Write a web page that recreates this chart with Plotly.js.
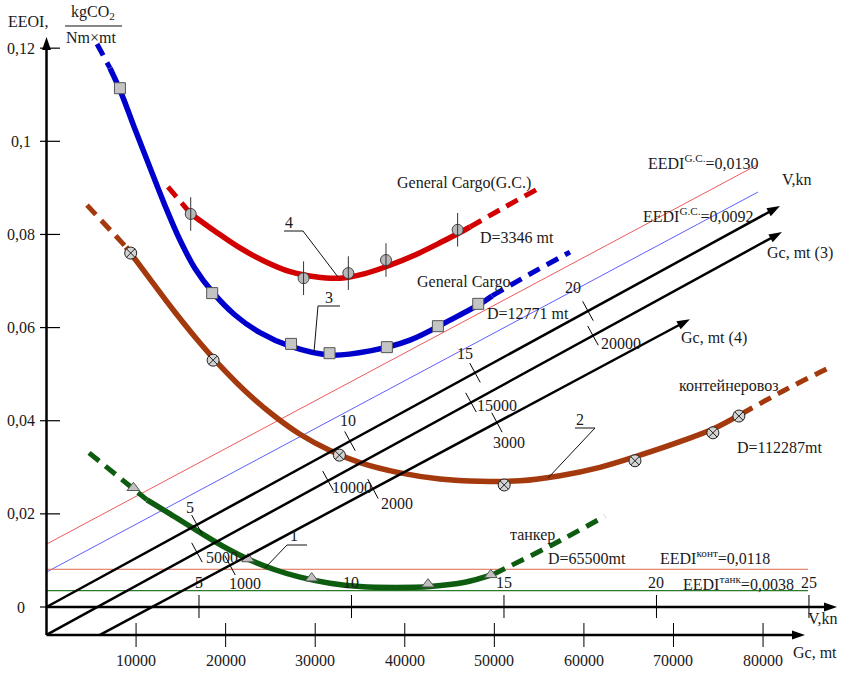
<!DOCTYPE html>
<html><head><meta charset="utf-8">
<script src="https://cdn.plot.ly/plotly-3.0.1.min.js"></script>
<style>html,body{margin:0;padding:0;background:#fff;}#chart{width:843px;height:673px;}</style>
</head><body><div id="chart"></div>
<script>
// ================= DATA =================
// Axis ticks
const eeoiTicks = [0, 0.02, 0.04, 0.06, 0.08, 0.10, 0.12];
const eeoiTickText = ['0', '0,02', '0,04', '0,06', '0,08', '0,1', '0,12'];
const gcTicks = [10000, 20000, 30000, 40000, 50000, 60000, 70000, 80000];
const vTicks = [5, 10, 15, 20, 25];
const mtPerKnot = 3405;               // V,kn scale expressed in Gc units
// Diagonal nomogram axes (start / end points, tick positions as Gc projections)
const diagVStart = [0, 0], diagVEnd = [81890, 0.0861];
const diagVTickPos = [16800, 33880, 47840, 60450];
const diagVTickText = ['5', '10', '15', '20'];
const diag3Start = [0, -0.0060], diag3End = [82110, 0.0805];
const diag3TickPos = [16800, 31430, 47390, 61010];
const diag3TickText = ['5000', '10000', '15000', '20000'];
const diag4Start = [5970, -0.0060], diag4End = [71840, 0.0618];
const diag4TickPos = [20490, 36450, 50290];
const diag4TickText = ['1000', '2000', '3000'];
// EEDI reference lines
const eediGC1X = [0, 79320], eediGC1Y = [0.0135, 0.0949];
const eediGC2X = [0, 79430], eediGC2Y = [0.0075, 0.0891];
const eediKontLevel = 0.0081, eediTankLevel = 0.0035, eediHorizEnd = 85010;

// Curve 1: tanker D=65500mt
const tankerMarkX = [9700, 22500, 29600, 42600, 49600];
const tankerMarkY = [0.0256, 0.0103, 0.0062, 0.0049, 0.0069];
const tankerLineX = [11220, 13790, 16800, 19930, 22720, 25510, 28300, 31650, 35000, 38910, 42810, 46720, 49850];
const tankerLineY = [0.0230, 0.0200, 0.0164, 0.0128, 0.0101, 0.0080, 0.0064, 0.0051, 0.0044, 0.0042, 0.0044, 0.0053, 0.0070];
const tankerHeadX = [4750, 11220], tankerHeadY = [0.0331, 0.0230];
const tankerTailX = [49850, 56210, 62350], tankerTailY = [0.0070, 0.0131, 0.0195];

// Curve 2: container ship D=112287mt
const contMarkX = [9400, 18600, 32700, 51100, 65700, 74400, 77300];
const contMarkY = [0.0760, 0.0530, 0.0326, 0.0262, 0.0314, 0.0374, 0.0410];
const contLineX = [8880, 11560, 14350, 17140, 19930, 22720, 25510, 28300, 31650, 35000, 39470, 43930, 48400, 52860, 57330, 61790, 66260, 70720, 74410, 77530];
const contLineY = [0.0773, 0.0704, 0.0633, 0.0567, 0.0507, 0.0454, 0.0409, 0.0371, 0.0336, 0.0310, 0.0288, 0.0275, 0.0270, 0.0271, 0.0282, 0.0300, 0.0326, 0.0355, 0.0382, 0.0414];
const contHeadX = [4520, 8880], contHeadY = [0.0863, 0.0773];
const contTailX = [77530, 82450, 87470], contTailY = [0.0414, 0.0466, 0.0515];

// Curve 3: General Cargo D=12771 mt
const gc3MarkX = [8200, 18500, 27300, 31600, 38000, 43700, 48200];
const gc3MarkY = [0.1114, 0.0674, 0.0565, 0.0545, 0.0558, 0.0603, 0.0651];
const gc3LineX = [7090, 8210, 9880, 11560, 13230, 14900, 16580, 18590, 21040, 23840, 27190, 31650, 36120, 40580, 45050, 48170, 49740];
const gc3LineY = [0.1157, 0.1110, 0.1026, 0.0943, 0.0862, 0.0788, 0.0727, 0.0675, 0.0627, 0.0589, 0.0560, 0.0541, 0.0550, 0.0573, 0.0616, 0.0648, 0.0668];
const gc3HeadX = [5640, 7090], gc3HeadY = [0.1209, 0.1157];
const gc3TailX = [49740, 53980, 58440], gc3TailY = [0.0668, 0.0715, 0.0762];

// Curve 4: General Cargo(G.C.) D=3346 mt
const gc4MarkX = [16100, 28700, 33700, 37900, 45900];
const gc4MarkY = [0.0844, 0.0706, 0.0717, 0.0745, 0.0810];
const gc4LineX = [16130, 18810, 21600, 24390, 27190, 29980, 32770, 35560, 38350, 41140, 43930, 45940, 47280];
const gc4LineY = [0.0844, 0.0807, 0.0771, 0.0742, 0.0720, 0.0709, 0.0706, 0.0716, 0.0734, 0.0756, 0.0782, 0.0802, 0.0816];
const gc4HeadX = [13560, 16130], gc4HeadY = [0.0902, 0.0844];
const gc4TailX = [47280, 51190, 55430], gc4TailY = [0.0816, 0.0859, 0.0904];

// ================= LAYOUT / STYLE =================
const W = 843, H = 673;
const X0 = 46.5, PXX = 0.008957;   // pixel of Gc=0, pixels per mt
const Y0 = 607, PXY = 4657;        // pixel of EEOI=0, pixels per unit
const xRange = [-X0 / PXX, (W - X0) / PXX];
const yRange = [-(H - Y0) / PXY, Y0 / PXY];
const dx = p => p / PXX, dy = p => p / PXY;       // pixel lengths -> data lengths
const gcAxisLevel = -dy(28);
const FONT = 'Liberation Serif, serif';
const pp = (px, py) => ({x: px / W, y: 1 - py / H});
const DASH = '13px,8px';

const traces = [];
function line(x, y, color, width, dash) {
  traces.push({type: 'scatter', mode: 'lines', x: x, y: y, hoverinfo: 'skip',
    line: {color: color, width: width, dash: dash || 'solid', shape: 'spline', smoothing: 1}});
}
function marks(x, y, symbol, size, fill, lc, lw) {
  traces.push({type: 'scatter', mode: 'markers', x: x, y: y, hoverinfo: 'skip',
    marker: {symbol: symbol, size: size, color: fill, line: {color: lc, width: lw}}});
}
// thin EEDI lines
traces.push({type:'scatter',mode:'lines',x:eediGC1X,y:eediGC1Y,line:{color:'#ee5a5a',width:1},hoverinfo:'skip'});
traces.push({type:'scatter',mode:'lines',x:eediGC2X,y:eediGC2Y,line:{color:'#5f5fff',width:1},hoverinfo:'skip'});
traces.push({type:'scatter',mode:'lines',x:[0,eediHorizEnd],y:[eediKontLevel,eediKontLevel],line:{color:'#dd6a50',width:1},hoverinfo:'skip'});
traces.push({type:'scatter',mode:'lines',x:[0,eediHorizEnd],y:[eediTankLevel,eediTankLevel],line:{color:'#2a7a2a',width:1.2},hoverinfo:'skip'});

const C1 = '#0e5c10', C2 = '#a3390c', C3 = '#0000cc', C4 = '#d20000';
line(tankerLineX, tankerLineY, C1, 5.5); line(tankerHeadX, tankerHeadY, C1, 5, DASH); line(tankerTailX, tankerTailY, C1, 5, DASH);
line(contLineX, contLineY, C2, 5.5); line(contHeadX, contHeadY, C2, 5, DASH); line(contTailX, contTailY, C2, 5, DASH);
line(gc3LineX, gc3LineY, C3, 5.5); line(gc3HeadX, gc3HeadY, C3, 5, DASH); line(gc3TailX, gc3TailY, C3, 5, DASH);
line(gc4LineX, gc4LineY, C4, 5.5); line(gc4HeadX, gc4HeadY, C4, 5, DASH); line(gc4TailX, gc4TailY, C4, 5, DASH);
marks(tankerMarkX, tankerMarkY, 'triangle-up', 11, '#c0c0c0', '#555', 1);
marks(contMarkX, contMarkY, 'circle-x', 12, '#d4d4d4', '#222', 1);
marks(gc3MarkX, gc3MarkY, 'square', 11, '#c4c4c4', '#555', 1);
marks(gc4MarkX, gc4MarkY, 'circle', 11, '#b8b8b8', '#444', 1);
marks(gc4MarkX, gc4MarkY, 'line-ns', 24, '#333', '#333', 1);

// ================= SHAPES & ANNOTATIONS =================
const shapes = [], ann = [];
function seg(x0, y0, x1, y1, color, width) {
  shapes.push({type: 'line', xref: 'x', yref: 'y', x0: x0, y0: y0, x1: x1, y1: y1, line: {color: color, width: width}});
}
function arrow(x0, y0, x1, y1, w) {
  const sx = (x1 - x0) * PXX, sy = -(y1 - y0) * PXY;
  const L = Math.hypot(sx, sy), ux = sx / L, uy = sy / L, len = 13, hw = 4.5;
  const toData = (ox, oy) => [x1 + ox / PXX, y1 - oy / PXY];
  const b = toData(-ux * len * 0.7, -uy * len * 0.7);
  seg(x0, y0, b[0], b[1], '#000', w);
  const p1 = toData(-ux * len - uy * hw, -uy * len + ux * hw);
  const p2 = toData(-ux * len + uy * hw, -uy * len - ux * hw);
  shapes.push({type: 'path', xref: 'x', yref: 'y', fillcolor: '#000', line: {width: 0},
    path: 'M' + x1 + ',' + y1 + ' L' + p1[0] + ',' + p1[1] + ' L' + p2[0] + ',' + p2[1] + ' Z'});
}
function text(t, px, py, anchor, size) {
  const p = pp(px, py);
  ann.push({x: p.x, y: p.y, xref: 'paper', yref: 'paper', text: t, showarrow: false,
    xanchor: anchor || 'left', yanchor: 'middle', font: {family: FONT, size: size || 16, color: '#1a1a1a'}});
}
// main axes
arrow(0, gcAxisLevel, 0, dy(570), 2.5);                 // EEOI axis
arrow(0, 0, dx(790.5), 0, 2.5);                         // V,kn axis
arrow(0, gcAxisLevel, dx(758.5), gcAxisLevel, 2.5);     // Gc axis
eeoiTicks.forEach((v, i) => {
  seg(-dx(6.5), v, dx(13.5), v, '#000', 1.2);
  ann.push({x: 21 / W, xref: 'paper', y: v, yref: 'y', text: eeoiTickText[i], showarrow: false,
    xanchor: 'center', yanchor: 'middle', font: {family: FONT, size: 16, color: '#1a1a1a'}});
});
gcTicks.forEach(v => {
  seg(v, gcAxisLevel + dy(12), v, gcAxisLevel - dy(12), '#000', 1);
  ann.push({x: v, xref: 'x', y: 1 - 660 / H, yref: 'paper', text: String(v), showarrow: false,
    xanchor: 'center', yanchor: 'middle', font: {family: FONT, size: 16, color: '#1a1a1a'}});
});
vTicks.forEach(v => {
  seg(v * mtPerKnot, dy(12), v * mtPerKnot, -dy(11), '#000', 1);
  ann.push({x: v * mtPerKnot, xref: 'x', y: 1 - 582 / H, yref: 'paper', text: String(v), showarrow: false,
    xanchor: 'center', yanchor: 'middle', font: {family: FONT, size: 16, color: '#1a1a1a'}});
});
// diagonal nomogram axes
function diag(st, en, tickPos, tickText, labelPx) {
  arrow(st[0], st[1], en[0], en[1], 2.5);
  const k = (en[1] - st[1]) / (en[0] - st[0]);
  const s = k * PXY / PXX;
  const n = Math.sqrt(1 + s * s), h = 11;
  tickPos.forEach((xc, i) => {
    const yc = st[1] + (xc - st[0]) * k;
    const ox = dx(h * s / n), oy = dy(h / n);
    seg(xc - ox, yc + oy, xc + ox, yc - oy, '#000', 1);
    text(tickText[i], labelPx[i][0], labelPx[i][1], 'center', 16);
  });
}
diag(diagVStart, diagVEnd, diagVTickPos, diagVTickText, [[190,507],[348,420],[465,353],[573,287]]);
diag(diag3Start, diag3End, diag3TickPos, diag3TickText, [[222,557],[352,487],[497,405],[621,343]]);
diag(diag4Start, diag4End, diag4TickPos, diag4TickText, [[245,583],[397,503],[509,442]]);

// labels
text('General Cargo(G.C.)', 395, 183);
text('D=3346 mt', 478, 237);
text('General Cargo', 415, 282);
text('D=12771 mt', 485, 313);
text('контейнеровоз', 677, 386);
text('D=112287mt', 735, 447);
text('танкер', 508, 535);
text('D=65500mt', 546, 558);
text('EEDI<sup>конт</sup>=0,0118', 658, 557);
text('EEDI<sup>танк</sup>=0,0038', 681, 583);
text('EEDI<sup>G.C.</sup>=0,0130', 646, 162);
text('EEDI<sup>G.C.</sup>=0,0092', 641, 215);
text('V,kn', 780, 180);
text('Gc, mt (3)', 765, 253);
text('Gc, mt (4)', 679, 338);
text('V,kn', 806, 618);
text('Gc, mt', 791, 652);
text('EEOI,', 6, 22);
text('kgCO<sub>2</sub>', 93, 12, 'center');
text('Nm×mt', 91, 37, 'center');
text('1', 294, 535, 'center');
text('2', 580, 419, 'center');
text('3', 329, 297, 'center');
text('4', 289, 223, 'center');
function ppath(pts) {
  return pts.map((q, i) => (i ? 'L' : 'M') + (q[0] / W).toFixed(5) + ',' + (1 - q[1] / H).toFixed(5)).join(' ');
}
[[[65,26],[122,26]],
 [[265,568],[287,545],[307,545]],
 [[548,478],[595,428],[575,428]],
 [[314,352],[318,306],[340,306]],
 [[338,277],[303,231],[284,231]]].forEach(pts => {
  shapes.push({type: 'path', xref: 'paper', yref: 'paper', path: ppath(pts), line: {color: '#111', width: 1}});
});

const layout = {
  width: W, height: H, margin: {l: 0, r: 0, t: 0, b: 0, pad: 0},
  paper_bgcolor: '#fff', plot_bgcolor: '#fff', showlegend: false,
  xaxis: {range: xRange, visible: false, fixedrange: true},
  yaxis: {range: yRange, visible: false, fixedrange: true},
  separators: ', ',
  font: {family: FONT, size: 16, color: '#1a1a1a'},
  shapes: shapes, annotations: ann
};
Plotly.newPlot('chart', traces, layout, {displayModeBar: false, staticPlot: true});
</script></body></html>
